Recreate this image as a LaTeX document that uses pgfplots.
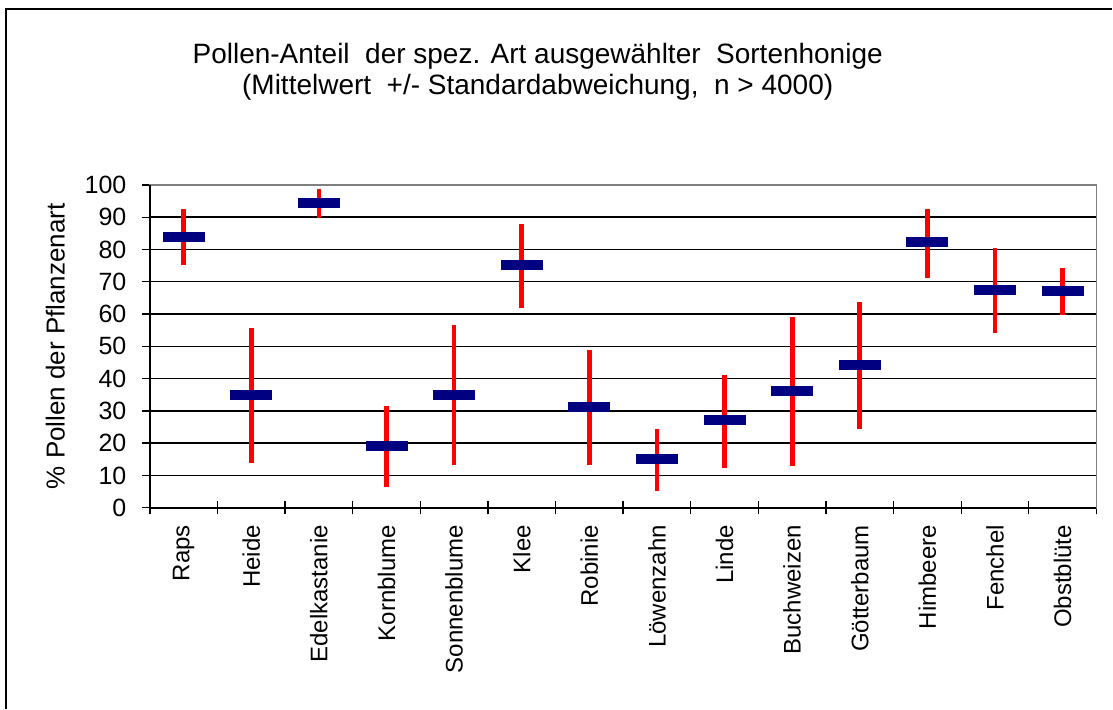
\documentclass[border=0pt]{standalone}
\usepackage{pgfplots}
\pgfplotsset{compat=1.18}
\usepackage{pgfplotstable}
\usepackage{fontspec}
\setmainfont{Liberation Sans}
\definecolor{navyb}{RGB}{0,0,128}
\definecolor{frgray}{RGB}{128,128,128}
\pgfplotstableread{
x y ep em
0 84.0 8.6 8.7
1 34.9 20.9 20.9
2 94.3 4.5 4.7
3 19.0 12.4 12.6
4 34.9 21.8 21.8
5 75.3 12.6 13.5
6 31.1 17.6 17.9
7 15.2 9.3 10.0
8 27.1 14.1 14.8
9 36.1 23.1 23.2
10 44.1 19.7 19.8
11 82.2 10.4 10.9
12 67.4 13.1 13.4
13 67.0 7.3 7.4
}\data
\begin{document}
\begin{tikzpicture}
\path (0,0) rectangle (1113pt,709pt);
\draw[line width=1.3pt] (6pt,0) -- (6pt,700pt) -- (1113pt,700pt);
\node[anchor=base, font=\fontsize{28}{30}\selectfont] at (538pt,645pt) {Pollen-Anteil\ \ der spez. Art ausgewählter\ \ Sortenhonige};
\node[anchor=base, font=\fontsize{28}{30}\selectfont] at (538pt,614pt) {(Mittelwert\ \ +/- Standardabweichung,\ \ n > 4000)};
\begin{axis}[
  at={(150pt,201pt)}, anchor=south west,
  scale only axis, width=947pt, height=323pt,
  xmin=-0.5, xmax=13.5, ymin=0, ymax=100,
  xtick={0,...,13},
  xtick pos=bottom, ytick pos=left,
  xticklabels={Raps,Heide,Edelkastanie,Kornblume,Sonnenblume,Klee,Robinie,Löwenzahn,Linde,Buchweizen,Götterbaum,Himbeere,Fenchel,Obstblüte},
  major x tick style={draw=none},
  minor xtick={-0.5,0.5,...,13.5},
  minor tick length=13pt,
  xtick align=center,
  ytick={0,10,...,100},
  ytick align=outside,
  major tick length=8pt,
  every tick/.style={black, line width=1.3pt},
  ymajorgrids,
  major grid style={black, line width=1.4pt},
  axis line style={frgray, line width=1.6pt},
  /pgf/number format/assume math mode=true,
  yticklabel style={font=\fontsize{25}{25}\selectfont, xshift=-12pt},
  xticklabel style={font=\fontsize{24}{24}\selectfont, yshift=-10pt, rotate=90, anchor=east},
  ylabel={\% Pollen der Pflanzenart},
  ylabel style={font=\fontsize{26}{26}\selectfont, yshift=13pt},
  clip=false,
]
\addplot[draw=none, mark=none, error bars/.cd, y dir=both, y explicit, error mark=none,
  error bar style={red, line width=4.7pt}]
  table[x=x, y=y, y error plus=ep, y error minus=em] {\data};
\addplot[only marks, mark=-, mark size=21pt, mark options={navyb, line width=10pt, solid}]
  table[x=x, y=y] {\data};
\draw[frgray, line width=1.6pt] (rel axis cs:0,1) -- (rel axis cs:1,1) -- (rel axis cs:1,0);
\draw[black, line width=1.6pt] (rel axis cs:0,1) -- (rel axis cs:0,0) -- (rel axis cs:1,0);
\end{axis}
\end{tikzpicture}
\end{document}
